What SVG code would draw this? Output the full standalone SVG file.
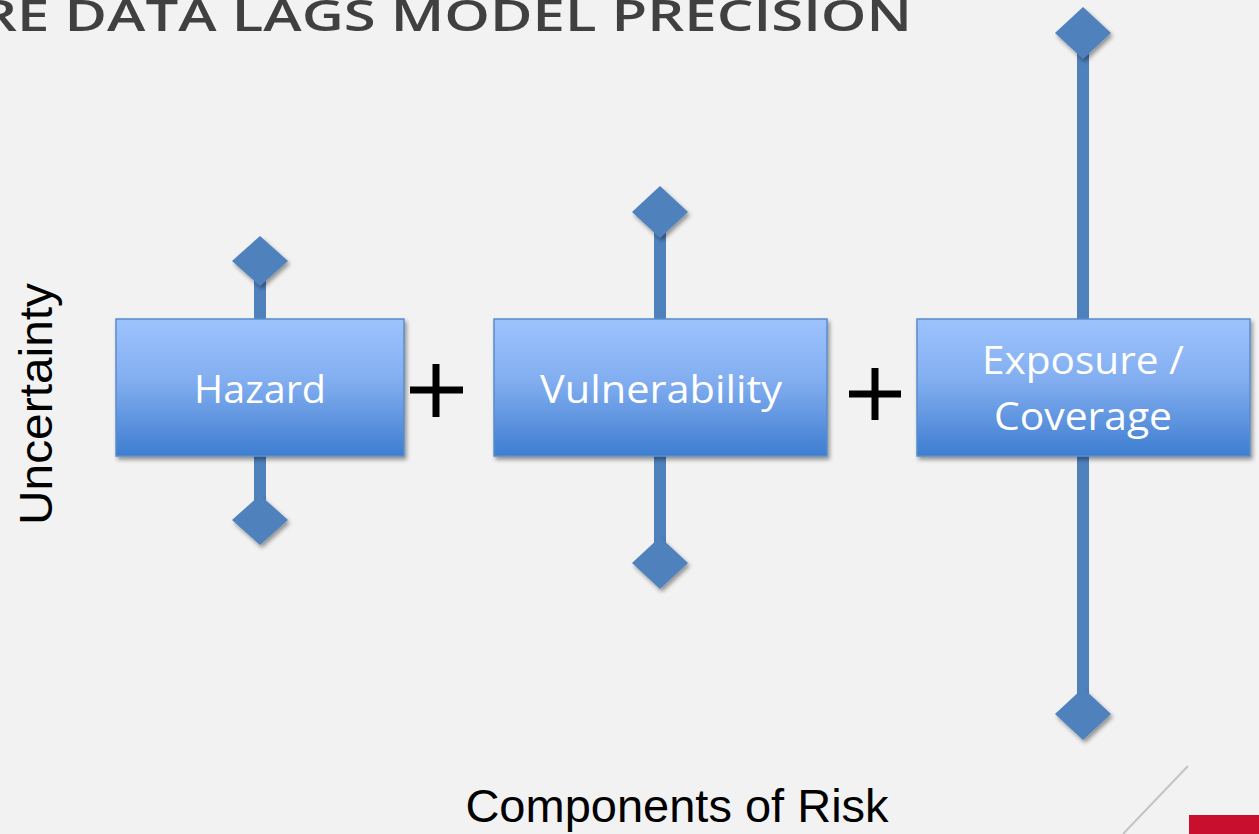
<svg xmlns="http://www.w3.org/2000/svg" width="1259" height="834" viewBox="0 0 1259 834">
<defs>
<linearGradient id="boxg" x1="0" y1="0" x2="0" y2="1">
<stop offset="0" stop-color="#9dc3fd"/>
<stop offset="0.45" stop-color="#82aef0"/>
<stop offset="1" stop-color="#3e7dd0"/>
</linearGradient>
<filter id="sh" x="-20%" y="-20%" width="140%" height="140%">
<feGaussianBlur in="SourceAlpha" stdDeviation="2"/>
<feOffset dx="2" dy="3" result="b"/>
<feComponentTransfer><feFuncA type="linear" slope="0.4"/></feComponentTransfer>
<feMerge><feMergeNode/><feMergeNode in="SourceGraphic"/></feMerge>
</filter>
<style>
.box{fill:url(#boxg);stroke:#5a8ccc;stroke-width:1.5}
.stem{stroke:#4f81bd;stroke-width:12}
.dia{fill:#4f81bd}
.lbl{font-family:"Open Sans","Noto Sans",sans-serif;font-size:38px;fill:#ffffff;text-anchor:middle}
.plus{stroke:#000;stroke-width:7}
.axis{font-family:"Liberation Sans",Arial,sans-serif;font-size:47px;fill:#000}
</style>
</defs>
<rect width="1259" height="834" fill="#f2f2f2"/>
<text x="-20" y="31" font-family="'Open Sans','Liberation Sans',sans-serif" font-size="44" font-weight="600" fill="#404040" textLength="932" lengthAdjust="spacingAndGlyphs">RE DATA LAGS MODEL PRECISION</text>
<g id="connectors">
<line class="stem" x1="260" y1="261" x2="260" y2="320"/>
<line class="stem" x1="260" y1="455" x2="260" y2="520"/>
<line class="stem" x1="660" y1="212" x2="660" y2="320"/>
<line class="stem" x1="660" y1="455" x2="660" y2="563"/>
<line class="stem" x1="1083" y1="34" x2="1083" y2="320"/>
<line class="stem" x1="1083" y1="455" x2="1083" y2="714"/>
<polygon class="dia" filter="url(#sh)" points="260,236 288,261 260,286 232,261"/>
<polygon class="dia" filter="url(#sh)" points="260,495 288,520 260,545 232,520"/>
<polygon class="dia" filter="url(#sh)" points="660,186 688,212 660,238 632,212"/>
<polygon class="dia" filter="url(#sh)" points="660,537 688,563 660,589 632,563"/>
<polygon class="dia" filter="url(#sh)" points="1083,7 1111,33 1083,59 1055,33"/>
<polygon class="dia" filter="url(#sh)" points="1083,688 1111,714 1083,740 1055,714"/>
</g>
<g id="hazard">
<rect class="box" filter="url(#sh)" x="116" y="319" width="288" height="137"/>
<text class="lbl" x="260" y="403" textLength="132" lengthAdjust="spacingAndGlyphs">Hazard</text>
</g>
<g id="plus1">
<line class="plus" x1="410" y1="390" x2="463" y2="390"/>
<line class="plus" x1="436" y1="364" x2="436" y2="417"/>
</g>
<g id="vulnerability">
<rect class="box" filter="url(#sh)" x="494" y="319" width="333" height="137"/>
<text class="lbl" x="661" y="403" textLength="242" lengthAdjust="spacingAndGlyphs">Vulnerability</text>
</g>
<g id="plus2">
<line class="plus" x1="849" y1="394" x2="901" y2="394"/>
<line class="plus" x1="875" y1="368" x2="875" y2="420"/>
</g>
<g id="exposure">
<rect class="box" filter="url(#sh)" x="917" y="319" width="333" height="137"/>
<text class="lbl" x="1083" y="374" textLength="202" lengthAdjust="spacingAndGlyphs">Exposure /</text>
<text class="lbl" x="1083" y="430" textLength="178" lengthAdjust="spacingAndGlyphs">Coverage</text>
</g>
<text class="axis" transform="translate(52,525) rotate(-90)" textLength="242" lengthAdjust="spacingAndGlyphs">Uncertainty</text>
<text class="axis" x="677" y="822" text-anchor="middle">Components of Risk</text>
<line x1="1188" y1="766" x2="1123" y2="834" stroke="#c4c4c4" stroke-width="2"/>
<rect x="1189" y="815" width="70" height="19" fill="#c8102e"/>
</svg>
